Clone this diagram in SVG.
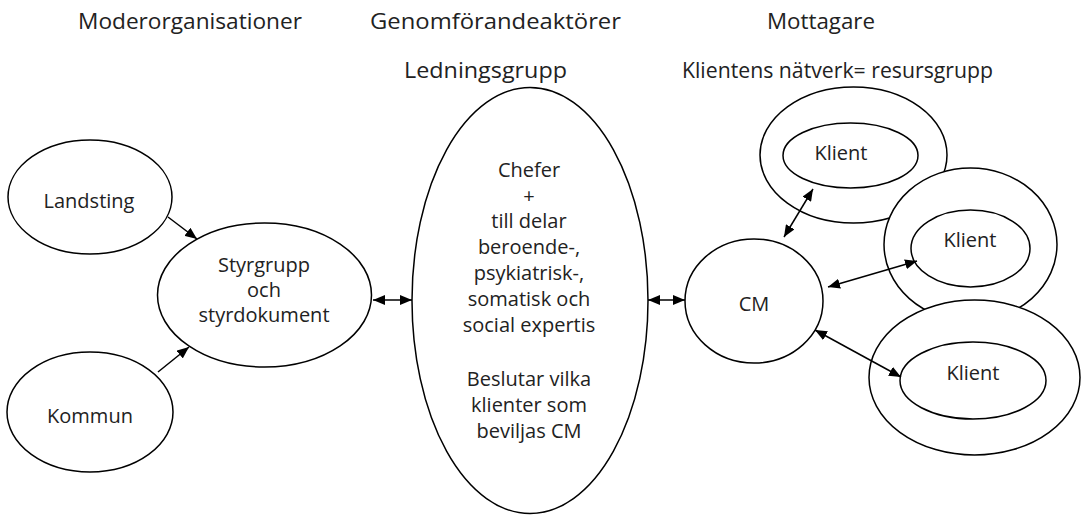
<svg xmlns="http://www.w3.org/2000/svg" width="1085" height="515" viewBox="0 0 1085 515">
<defs>
<style>
.n{fill:#fff;stroke:#000;stroke-width:1.5}
.t{font-family:"Open Sans","Noto Sans",sans-serif;font-size:20px;fill:#222;text-anchor:middle}
.h{font-size:22.5px}
.c{stroke:#000;stroke-width:1.5;fill:none;marker-end:url(#ah)}
.d{marker-start:url(#ah)}
</style>
<marker id="ah" viewBox="0 0 12 10" refX="12" refY="5" markerWidth="12" markerHeight="10" markerUnits="userSpaceOnUse" orient="auto-start-reverse">
<path d="M0,0 L12,5 L0,10 z" fill="#000"/>
</marker>
</defs>
<rect width="1085" height="515" fill="#fff"/>
<g id="headers">
<text class="t h" x="190" y="29" textLength="224" lengthAdjust="spacingAndGlyphs">Moderorganisationer</text>
<text class="t h" x="495.5" y="29" textLength="251" lengthAdjust="spacingAndGlyphs">Genomförandeaktörer</text>
<text class="t h" x="485.5" y="78" textLength="163" lengthAdjust="spacingAndGlyphs">Ledningsgrupp</text>
<text class="t h" x="821" y="29" textLength="108" lengthAdjust="spacingAndGlyphs">Mottagare</text>
<text class="t h" x="837.5" y="78" textLength="311" lengthAdjust="spacingAndGlyphs">Klientens nätverk= resursgrupp</text>
</g>
<g id="landsting">
<ellipse class="n" cx="90" cy="197" rx="82" ry="57"/>
<text class="t" x="89" y="208">Landsting</text>
</g>
<g id="kommun">
<ellipse class="n" cx="90" cy="412" rx="83" ry="60"/>
<text class="t" x="90" y="423">Kommun</text>
</g>
<g id="styrgrupp">
<ellipse class="n" cx="264.5" cy="295" rx="107" ry="72"/>
<text class="t" x="264" y="272">Styrgrupp</text>
<text class="t" x="264" y="297">och</text>
<text class="t" x="264" y="322">styrdokument</text>
</g>
<g id="ledningsgrupp">
<ellipse class="n" cx="530" cy="300.5" rx="118" ry="213"/>
<text class="t" x="529" y="177">Chefer</text>
<text class="t" x="529" y="203">+</text>
<text class="t" x="529" y="228">till delar</text>
<text class="t" x="529" y="254">beroende-,</text>
<text class="t" x="529" y="280">psykiatrisk-,</text>
<text class="t" x="529" y="306">somatisk och</text>
<text class="t" x="529" y="332">social expertis</text>
<text class="t" x="529" y="386">Beslutar vilka</text>
<text class="t" x="529" y="412">klienter som</text>
<text class="t" x="529" y="438">beviljas CM</text>
</g>
<g id="cm">
<ellipse class="n" cx="754" cy="301" rx="69" ry="62"/>
<text class="t" x="754" y="311">CM</text>
</g>
<g id="klient1">
<ellipse class="n" cx="853.5" cy="155" rx="93.5" ry="68"/>
<ellipse class="n" cx="850.5" cy="155.5" rx="67.5" ry="32.5"/>
<text class="t" x="841" y="160">Klient</text>
</g>
<g id="klient2">
<ellipse class="n" cx="970.5" cy="244.5" rx="86.5" ry="76.5"/>
<ellipse class="n" cx="970.5" cy="248.5" rx="59.5" ry="38.5"/>
<text class="t" x="970" y="247">Klient</text>
</g>
<g id="klient3">
<ellipse class="n" cx="974.5" cy="377.5" rx="105.5" ry="77.5"/>
<ellipse class="n" cx="973" cy="380.5" rx="73" ry="38.5"/>
<text class="t" x="973" y="380">Klient</text>
</g>
<g id="connectors">
<line class="c" x1="168" y1="217" x2="197" y2="239"/>
<line class="c" x1="158" y1="372" x2="189" y2="347"/>
<line class="c d" x1="373" y1="300" x2="412" y2="300"/>
<line class="c d" x1="648" y1="300" x2="685" y2="300"/>
<line class="c d" x1="784" y1="237" x2="813" y2="189"/>
<line class="c d" x1="828" y1="287" x2="917" y2="261"/>
<line class="c d" x1="815" y1="330" x2="901" y2="377"/>
</g>
</svg>
